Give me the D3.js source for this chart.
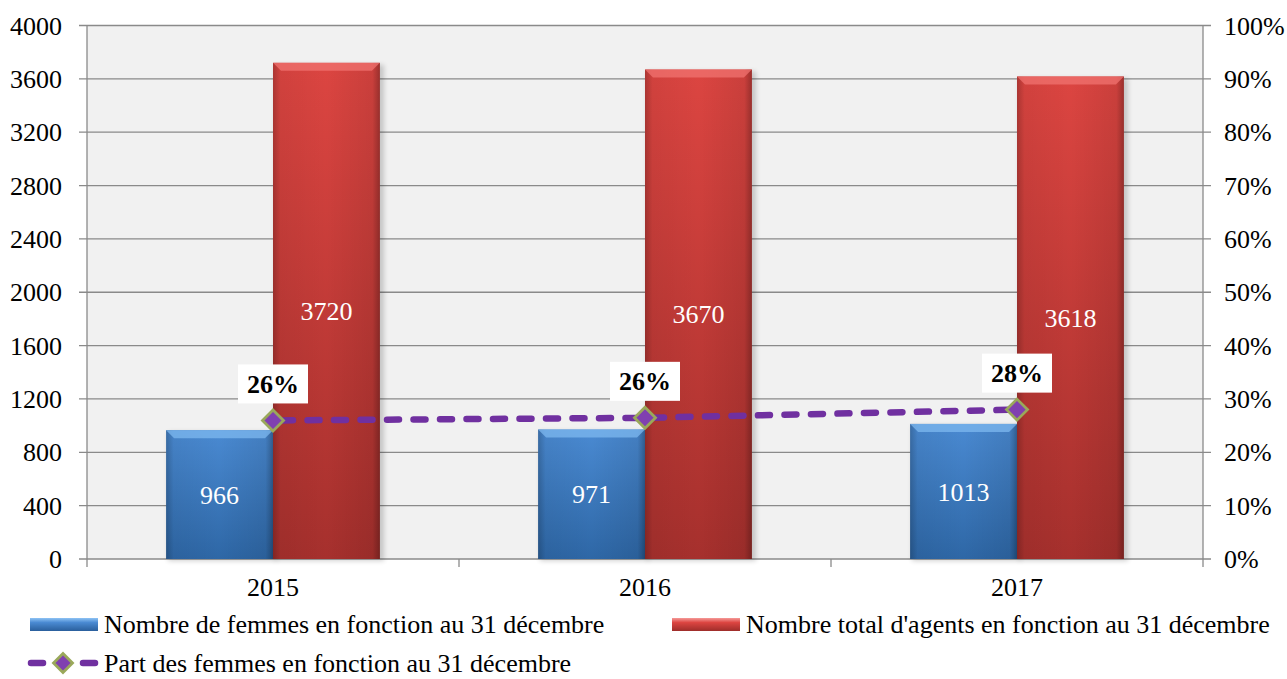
<!DOCTYPE html>
<html>
<head>
<meta charset="utf-8">
<script src="https://cdn.jsdelivr.net/npm/d3@7"></script>
<style>
  html, body { margin: 0; padding: 0; background: #ffffff; }
  #chart text { font-family: "Liberation Serif", "Times New Roman", serif; }
</style>
</head>
<body>
<svg id="chart" width="1287" height="679"></svg>
<script>
// Effectifs au 31 décembre
const years = ["2015", "2016", "2017"];
const women = [966, 971, 1013];
const totalAgents = [3720, 3670, 3618];
const womenShare = [0.2597, 0.2646, 0.2800];
const leftTicks = [0, 400, 800, 1200, 1600, 2000, 2400, 2800, 3200, 3600, 4000];
const rightTicks = [0, 0.1, 0.2, 0.3, 0.4, 0.5, 0.6, 0.7, 0.8, 0.9, 1.0];
const seriesNames = [
  "Nombre de femmes en fonction au 31 décembre",
  "Nombre total d'agents en fonction au 31 décembre",
  "Part des femmes en fonction au 31 décembre"
];

const FONT = '"Liberation Serif", "Times New Roman", serif';
const FS = 26;
const svg = d3.select("#chart").style("font-family", FONT);
const margin = { left: 87, right: 84, top: 25.5, bottom: 120 };
const W = 1287, H = 679;
const x0 = margin.left, x1 = W - margin.right;
const yTop = margin.top, yBot = 559;

const x = d3.scaleBand().domain(years).range([x0, x1]).paddingInner(0).paddingOuter(0);
const inner = d3.scaleBand().domain(["f", "t"]).range([0, x.bandwidth()]).paddingInner(0).paddingOuter(0.74);
const y = d3.scaleLinear().domain([0, 4000]).range([yBot, yTop]);
const yPct = d3.scaleLinear().domain([0, 1]).range([yBot, yTop]);

// gradients
const defs = svg.append("defs");
function vGrad(id, stops) {
  const g = defs.append("linearGradient").attr("id", id).attr("x1", 0).attr("y1", 0).attr("x2", 0).attr("y2", 1);
  stops.forEach(s => g.append("stop").attr("offset", s[0]).attr("stop-color", s[1]));
}
function hGrad(id, stops) {
  const g = defs.append("linearGradient").attr("id", id).attr("x1", 0).attr("y1", 0).attr("x2", 1).attr("y2", 0);
  stops.forEach(s => g.append("stop").attr("offset", s[0]).attr("stop-color", s[1]).attr("stop-opacity", s[2] === undefined ? 1 : s[2]));
}
vGrad("blueFill", [[0, "#4a8ad2"], [1, "#2e67a6"]]);
vGrad("redFill", [[0, "#dc4541"], [1, "#a6302d"]]);
hGrad("edgeShade", [[0, "#000", 0.22], [0.07, "#000", 0.05], [0.5, "#000", 0], [0.93, "#000", 0.08], [1, "#000", 0.3]]);
vGrad("blueLegend", [[0, "#8ec3f4"], [0.35, "#4a8ad2"], [1, "#2a5f9c"]]);
vGrad("redLegend", [[0, "#f59a98"], [0.35, "#dc4541"], [1, "#9e2d2a"]]);
const blur = defs.append("filter").attr("id", "shadow").attr("x", "-10%").attr("y", "-10%").attr("width", "130%").attr("height", "120%");
blur.append("feGaussianBlur").attr("stdDeviation", 2.5);

// plot background
svg.append("rect").attr("x", x0).attr("y", yTop).attr("width", x1 - x0).attr("height", yBot - yTop).attr("fill", "#f1f1f1");

// gridlines
svg.append("g").selectAll("line").data(leftTicks).join("line")
  .attr("x1", x0 - 8).attr("x2", x1 + 8)
  .attr("y1", d => y(d)).attr("y2", d => y(d))
  .attr("stroke", "#8a8a8a").attr("stroke-width", 1.3);

// left axis labels
svg.append("g").selectAll("text").data(leftTicks).join("text")
  .attr("x", 62).attr("y", d => y(d)).attr("dy", "0.35em")
  .attr("text-anchor", "end").attr("font-size", FS).attr("fill", "#000")
  .text(d => d);

// right axis labels
svg.append("g").selectAll("text").data(rightTicks).join("text")
  .attr("x", 1224).attr("y", d => yPct(d)).attr("dy", "0.35em")
  .attr("text-anchor", "start").attr("font-size", FS).attr("fill", "#000")
  .text(d => d3.format(".0%")(d));

// vertical axis lines
[x0, x1].forEach(px => {
  svg.append("line").attr("x1", px).attr("x2", px).attr("y1", yTop).attr("y2", yBot)
    .attr("stroke", "#8a8a8a").attr("stroke-width", 1.3);
});
// category separators below the base line
const seps = years.map(d => x(d)).concat([x1]);
svg.append("g").selectAll("line").data(seps).join("line")
  .attr("x1", d => d).attr("x2", d => d).attr("y1", yBot).attr("y2", yBot + 8)
  .attr("stroke", "#8a8a8a").attr("stroke-width", 1.3);

// x labels
svg.append("g").selectAll("text").data(years).join("text")
  .attr("x", d => x(d) + x.bandwidth() / 2).attr("y", 587).attr("dy", "0.35em")
  .attr("text-anchor", "middle").attr("font-size", FS).text(d => d);

// bars
function drawBar(g, bx, by, bw, bh, fillId, topColor) {
  g.append("rect").attr("x", bx + 2).attr("y", by + 2).attr("width", bw + 2).attr("height", bh)
    .attr("fill", "#000").attr("opacity", 0.18).attr("filter", "url(#shadow)");
  g.append("rect").attr("x", bx).attr("y", by).attr("width", bw).attr("height", bh).attr("fill", `url(#${fillId})`);
  g.append("rect").attr("x", bx).attr("y", by).attr("width", bw).attr("height", bh).attr("fill", "url(#edgeShade)");
  const b = Math.min(8, bh / 2);
  g.append("path")
    .attr("d", `M${bx},${by} L${bx + bw},${by} L${bx + bw - b},${by + b} L${bx + b},${by + b} Z`)
    .attr("fill", topColor).attr("opacity", 0.75);
}

const bars = svg.append("g");
years.forEach((yr, i) => {
  const bw = inner.bandwidth();
  const fx = x(yr) + inner("f");
  const tx = x(yr) + inner("t");
  drawBar(bars, fx, y(women[i]), bw, yBot - y(women[i]), "blueFill", "#7db8ef");
  drawBar(bars, tx, y(totalAgents[i]), bw, yBot - y(totalAgents[i]), "redFill", "#f07370");
});

// value labels inside bars
const lab = svg.append("g").attr("font-size", FS).attr("fill", "#ffffff").attr("text-anchor", "middle");
years.forEach((yr, i) => {
  const bw = inner.bandwidth();
  lab.append("text").attr("x", x(yr) + inner("f") + bw / 2).attr("y", (y(women[i]) + yBot) / 2).attr("dy", "0.35em").text(women[i]);
  lab.append("text").attr("x", x(yr) + inner("t") + bw / 2).attr("y", (y(totalAgents[i]) + yBot) / 2).attr("dy", "0.35em").text(totalAgents[i]);
});

// share line
const pts = years.map((yr, i) => [x(yr) + x.bandwidth() / 2, yPct(womenShare[i])]);
svg.append("path").attr("d", d3.line()(pts))
  .attr("fill", "none").attr("stroke", "#7030a0").attr("stroke-width", 6.5)
  .attr("stroke-dasharray", "12,14.5").attr("stroke-dashoffset", -8).attr("stroke-linecap", "round");

function diamond(g, cx, cy, r) {
  g.append("path").attr("d", `M${cx},${cy - r} L${cx + r},${cy} L${cx},${cy + r} L${cx - r},${cy} Z`)
    .attr("fill", "#8040b0").attr("stroke", "#9aa85a").attr("stroke-width", 2.8);
}
const mk = svg.append("g");
pts.forEach(p => diamond(mk, p[0], p[1], 10.5));

// share labels
const pl = svg.append("g");
pts.forEach((p, i) => {
  const t = d3.format(".0%")(womenShare[i]);
  pl.append("rect").attr("x", p[0] - 35).attr("y", p[1] - 56).attr("width", 70).attr("height", 39).attr("fill", "#ffffff");
  pl.append("text").attr("x", p[0]).attr("y", p[1] - 36.5).attr("dy", "0.35em")
    .attr("text-anchor", "middle").attr("font-size", FS).attr("font-weight", "bold").text(t);
});

// legend
const lg = svg.append("g").attr("font-size", FS);
function legendBar(lx, ly, fillId, label) {
  lg.append("rect").attr("x", lx).attr("y", ly - 6).attr("width", 68).attr("height", 13).attr("fill", `url(#${fillId})`);
  lg.append("text").attr("x", lx + 74).attr("y", ly).attr("dy", "0.35em").text(label);
}
legendBar(30, 624, "blueLegend", seriesNames[0]);
legendBar(672, 624, "redLegend", seriesNames[1]);
const ly2 = 663;
lg.append("line").attr("x1", 31).attr("x2", 43).attr("y1", ly2).attr("y2", ly2)
  .attr("stroke", "#7030a0").attr("stroke-width", 6.5).attr("stroke-linecap", "round");
lg.append("line").attr("x1", 83).attr("x2", 95).attr("y1", ly2).attr("y2", ly2)
  .attr("stroke", "#7030a0").attr("stroke-width", 6.5).attr("stroke-linecap", "round");
diamond(lg, 63, ly2, 9.5);
lg.append("text").attr("x", 104).attr("y", ly2).attr("dy", "0.35em").text(seriesNames[2]);
</script>
</body>
</html>
